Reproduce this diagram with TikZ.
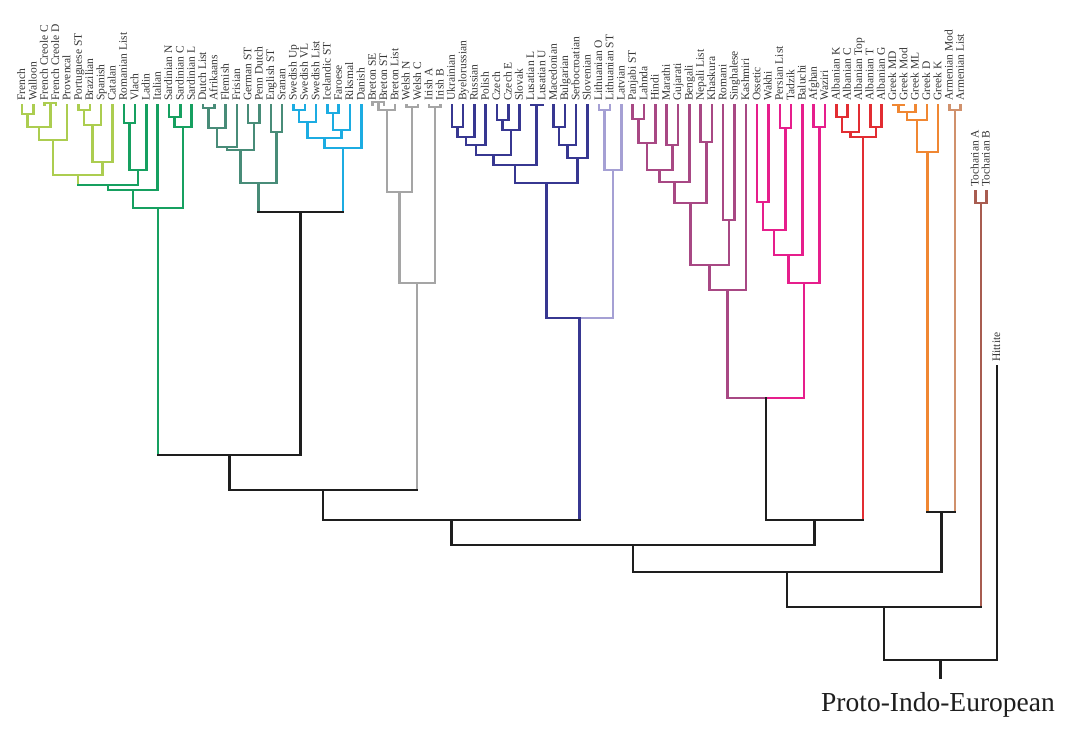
\documentclass[tikz,border=0pt]{standalone}
\usepackage{fontspec}
\setmainfont{Liberation Serif}
\usetikzlibrary{calc}
\definecolor{lg}{RGB}{172,205,80}
\definecolor{dg}{RGB}{22,160,96}
\definecolor{tl}{RGB}{72,140,120}
\definecolor{cy}{RGB}{28,172,226}
\definecolor{gy}{RGB}{165,165,165}
\definecolor{nv}{RGB}{55,55,145}
\definecolor{lp}{RGB}{165,160,212}
\definecolor{pm}{RGB}{168,72,132}
\definecolor{pk}{RGB}{230,30,140}
\definecolor{rd}{RGB}{226,45,50}
\definecolor{og}{RGB}{240,135,50}
\definecolor{tn}{RGB}{208,145,108}
\definecolor{br}{RGB}{168,92,80}
\definecolor{bk}{RGB}{30,30,30}
\definecolor{txt}{RGB}{55,55,55}
\tikzset{
  ln/.style={line width=2.5pt, line cap=rect},
  lab/.style={rotate=90, anchor=base west, inner sep=0pt, font=\fontsize{11.5}{11.5}\selectfont, text=txt}
}
\newcommand\mkleaf[3]{%
  \coordinate (l#1) at ({22+11.31*#1},105);
  \node[lab] (t#1) at ({22+11.31*#1+3.2},101) {#2};
  \expandafter\def\csname nc@l#1\endcsname{#3}}
\newcommand\mkjoin[7]{%
  \path let \p1=(#2), \p2=(#3) in coordinate (#1) at ({0.5*\x1+0.5*\x2},{-#4pt});
  \edef\mycola{\csname nc@#2\endcsname}\edef\mycolb{\csname nc@#3\endcsname}%
  \draw[ln,\mycola] (#2) -- (#2 |- #1);
  \draw[ln,\mycolb] (#3) -- (#3 |- #1);
  \draw[ln,#5] (#2 |- #1) -- (#1);
  \draw[ln,#6] (#1) -- (#3 |- #1);
  \expandafter\def\csname nc@#1\endcsname{#7}}
\begin{document}
\begin{tikzpicture}[x=1pt,y=-1pt]
\fill[white] (0,0) rectangle (1070,730);
\useasboundingbox (0,0) rectangle (1070,730);
% leaves
\mkleaf{0}{French}{lg}
\mkleaf{1}{Walloon}{lg}
\mkleaf{2}{French Creole C}{lg}
\mkleaf{3}{French Creole D}{lg}
\mkleaf{4}{Provencal}{lg}
\mkleaf{5}{Portuguese ST}{lg}
\mkleaf{6}{Brazilian}{lg}
\mkleaf{7}{Spanish}{lg}
\mkleaf{8}{Catalan}{lg}
\mkleaf{9}{Romanian List}{dg}
\mkleaf{10}{Vlach}{dg}
\mkleaf{11}{Ladin}{dg}
\mkleaf{12}{Italian}{dg}
\mkleaf{13}{Sardinian N}{dg}
\mkleaf{14}{Sardinian C}{dg}
\mkleaf{15}{Sardinian L}{dg}
\mkleaf{16}{Dutch List}{tl}
\mkleaf{17}{Afrikaans}{tl}
\mkleaf{18}{Flemish}{tl}
\mkleaf{19}{Frisian}{tl}
\mkleaf{20}{German ST}{tl}
\mkleaf{21}{Penn Dutch}{tl}
\mkleaf{22}{English ST}{tl}
\mkleaf{23}{Sranan}{tl}
\mkleaf{24}{Swedish Up}{cy}
\mkleaf{25}{Swedish VL}{cy}
\mkleaf{26}{Swedish List}{cy}
\mkleaf{27}{Icelandic ST}{cy}
\mkleaf{28}{Faroese}{cy}
\mkleaf{29}{Riksmal}{cy}
\mkleaf{30}{Danish}{cy}
\mkleaf{31}{Breton SE}{gy}
\mkleaf{32}{Breton ST}{gy}
\mkleaf{33}{Breton List}{gy}
\mkleaf{34}{Welsh N}{gy}
\mkleaf{35}{Welsh C}{gy}
\mkleaf{36}{Irish A}{gy}
\mkleaf{37}{Irish B}{gy}
\mkleaf{38}{Ukrainian}{nv}
\mkleaf{39}{Byelorussian}{nv}
\mkleaf{40}{Russian}{nv}
\mkleaf{41}{Polish}{nv}
\mkleaf{42}{Czech}{nv}
\mkleaf{43}{Czech E}{nv}
\mkleaf{44}{Slovak}{nv}
\mkleaf{45}{Lusatian L}{nv}
\mkleaf{46}{Lusatian U}{nv}
\mkleaf{47}{Macedonian}{nv}
\mkleaf{48}{Bulgarian}{nv}
\mkleaf{49}{Serbocroatian}{nv}
\mkleaf{50}{Slovenian}{nv}
\mkleaf{51}{Lithuanian O}{lp}
\mkleaf{52}{Lithuanian ST}{lp}
\mkleaf{53}{Latvian}{lp}
\mkleaf{54}{Panjabi ST}{pm}
\mkleaf{55}{Lahnda}{pm}
\mkleaf{56}{Hindi}{pm}
\mkleaf{57}{Marathi}{pm}
\mkleaf{58}{Gujarati}{pm}
\mkleaf{59}{Bengali}{pm}
\mkleaf{60}{Nepali List}{pm}
\mkleaf{61}{Khaskura}{pm}
\mkleaf{62}{Romani}{pm}
\mkleaf{63}{Singhalese}{pm}
\mkleaf{64}{Kashmiri}{pm}
\mkleaf{65}{Ossetic}{pk}
\mkleaf{66}{Wakhi}{pk}
\mkleaf{67}{Persian List}{pk}
\mkleaf{68}{Tadzik}{pk}
\mkleaf{69}{Baluchi}{pk}
\mkleaf{70}{Afghan}{pk}
\mkleaf{71}{Waziri}{pk}
\mkleaf{72}{Albanian K}{rd}
\mkleaf{73}{Albanian C}{rd}
\mkleaf{74}{Albanian Top}{rd}
\mkleaf{75}{Albanian T}{rd}
\mkleaf{76}{Albanian G}{rd}
\mkleaf{77}{Greek MD}{og}
\mkleaf{78}{Greek Mod}{og}
\mkleaf{79}{Greek ML}{og}
\mkleaf{80}{Greek D}{og}
\mkleaf{81}{Greek K}{og}
\mkleaf{82}{Armenian Mod}{tn}
\mkleaf{83}{Armenian List}{tn}
% Tocharian and Hittite
\coordinate (ta) at (975.5,191); \node[lab] (tta) at (978.7,187) {Tocharian A};
\coordinate (tb) at (986.5,191); \node[lab] (ttb) at (989.7,187) {Tocharian B};
\expandafter\def\csname nc@ta\endcsname{br}\expandafter\def\csname nc@tb\endcsname{br}
\coordinate (hit) at (997,366); \node[lab] (thit) at (1000.2,362) {Hittite};
\expandafter\def\csname nc@hit\endcsname{bk}
% Romance
\mkjoin{fw}{l0}{l1}{114}{lg}{lg}{lg}
\mkjoin{fc}{l2}{l3}{103}{lg}{lg}{lg}
\mkjoin{fwc}{fw}{fc}{127}{lg}{lg}{lg}
\mkjoin{gal}{fwc}{l4}{140}{lg}{lg}{lg}
\mkjoin{pb}{l5}{l6}{110}{lg}{lg}{lg}
\mkjoin{pbs}{pb}{l7}{125}{lg}{lg}{lg}
\mkjoin{ibe}{pbs}{l8}{162}{lg}{lg}{lg}
\mkjoin{gi}{gal}{ibe}{175}{lg}{lg}{lg}
\mkjoin{rv}{l9}{l10}{123}{dg}{dg}{dg}
\mkjoin{rvl}{rv}{l11}{170}{dg}{dg}{dg}
\mkjoin{ra}{gi}{rvl}{185}{dg}{dg}{dg}
\mkjoin{rb}{ra}{l12}{190}{dg}{dg}{dg}
\mkjoin{sn}{l13}{l14}{117}{dg}{dg}{dg}
\mkjoin{sar}{sn}{l15}{127}{dg}{dg}{dg}
\mkjoin{rom}{rb}{sar}{208}{dg}{dg}{dg}
% Germanic
\mkjoin{da}{l16}{l17}{108}{tl}{tl}{tl}
\mkjoin{daf}{da}{l18}{128}{tl}{tl}{tl}
\mkjoin{dafr}{daf}{l19}{147}{tl}{tl}{tl}
\mkjoin{gp}{l20}{l21}{123}{tl}{tl}{tl}
\mkjoin{wg}{dafr}{gp}{150}{tl}{tl}{tl}
\mkjoin{es}{l22}{l23}{132}{tl}{tl}{tl}
\mkjoin{wge}{wg}{es}{183}{tl}{tl}{tl}
\mkjoin{sw}{l24}{l25}{110}{cy}{cy}{cy}
\mkjoin{sws}{sw}{l26}{122}{cy}{cy}{cy}
\mkjoin{ifa}{l27}{l28}{113}{cy}{cy}{cy}
\mkjoin{ifr}{ifa}{l29}{130}{cy}{cy}{cy}
\mkjoin{scn}{sws}{ifr}{138}{cy}{cy}{cy}
\mkjoin{scd}{scn}{l30}{148}{cy}{cy}{cy}
\mkjoin{germ}{wge}{scd}{212}{bk}{bk}{bk}
% Celtic
\mkjoin{bb}{l31}{l32}{102}{gy}{gy}{gy}
\mkjoin{bre}{bb}{l33}{110}{gy}{gy}{gy}
\mkjoin{wel}{l34}{l35}{107}{gy}{gy}{gy}
\mkjoin{bry}{bre}{wel}{192}{gy}{gy}{gy}
\mkjoin{iri}{l36}{l37}{107}{gy}{gy}{gy}
\mkjoin{celt}{bry}{iri}{283}{gy}{gy}{gy}
% Balto-Slavic
\mkjoin{ub}{l38}{l39}{127}{nv}{nv}{nv}
\mkjoin{ubr}{ub}{l40}{137}{nv}{nv}{nv}
\mkjoin{ubp}{ubr}{l41}{145}{nv}{nv}{nv}
\mkjoin{cz}{l42}{l43}{120}{nv}{nv}{nv}
\mkjoin{czs}{cz}{l44}{130}{nv}{nv}{nv}
\mkjoin{ws}{ubp}{czs}{155}{nv}{nv}{nv}
\mkjoin{lus}{l45}{l46}{105}{nv}{nv}{nv}
\mkjoin{wl}{ws}{lus}{165}{nv}{nv}{nv}
\mkjoin{mb}{l47}{l48}{127}{nv}{nv}{nv}
\mkjoin{mbs}{mb}{l49}{145}{nv}{nv}{nv}
\mkjoin{ssl}{mbs}{l50}{158}{nv}{nv}{nv}
\mkjoin{slav}{wl}{ssl}{183}{nv}{nv}{nv}
\mkjoin{lit}{l51}{l52}{110}{lp}{lp}{lp}
\mkjoin{balt}{lit}{l53}{170}{lp}{lp}{lp}
\mkjoin{bs}{slav}{balt}{318}{nv}{lp}{nv}
% Indo-Iranian
\mkjoin{pl}{l54}{l55}{119}{pm}{pm}{pm}
\mkjoin{plh}{pl}{l56}{143}{pm}{pm}{pm}
\mkjoin{mg}{l57}{l58}{145}{pm}{pm}{pm}
\mkjoin{plm}{plh}{mg}{170}{pm}{pm}{pm}
\mkjoin{plb}{plm}{l59}{182}{pm}{pm}{pm}
\mkjoin{nk}{l60}{l61}{142}{pm}{pm}{pm}
\mkjoin{inda}{plb}{nk}{203}{pm}{pm}{pm}
\mkjoin{rs}{l62}{l63}{220}{pm}{pm}{pm}
\mkjoin{indb}{inda}{rs}{265}{pm}{pm}{pm}
\mkjoin{ind}{indb}{l64}{290}{pm}{pm}{pm}
\mkjoin{ow}{l65}{l66}{202}{pk}{pk}{pk}
\mkjoin{pt}{l67}{l68}{128}{pk}{pk}{pk}
\mkjoin{owp}{ow}{pt}{230}{pk}{pk}{pk}
\mkjoin{owb}{owp}{l69}{255}{pk}{pk}{pk}
\mkjoin{aw}{l70}{l71}{127}{pk}{pk}{pk}
\mkjoin{ira}{owb}{aw}{283}{pk}{pk}{pk}
\mkjoin{ii}{ind}{ira}{398}{pm}{pk}{bk}
% Albanian
\mkjoin{kc}{l72}{l73}{117}{rd}{rd}{rd}
\mkjoin{kct}{kc}{l74}{132}{rd}{rd}{rd}
\mkjoin{tg}{l75}{l76}{127}{rd}{rd}{rd}
\mkjoin{alb}{kct}{tg}{137}{rd}{rd}{rd}
% Greek, Armenian
\mkjoin{gm}{l77}{l78}{105}{og}{og}{og}
\mkjoin{gml}{gm}{l79}{112}{og}{og}{og}
\mkjoin{gmd}{gml}{l80}{120}{og}{og}{og}
\mkjoin{grk}{gmd}{l81}{152}{og}{og}{og}
\mkjoin{arm}{l82}{l83}{110}{tn}{tn}{tn}
% Tocharian
\mkjoin{toc}{ta}{tb}{203}{br}{br}{br}
% upper levels
\mkjoin{rg}{rom}{germ}{455}{bk}{bk}{bk}
\mkjoin{rgc}{rg}{celt}{490}{bk}{bk}{bk}
\mkjoin{rgcb}{rgc}{bs}{520}{bk}{bk}{bk}
\mkjoin{ia}{ii}{alb}{520}{bk}{bk}{bk}
\mkjoin{xx}{rgcb}{ia}{545}{bk}{bk}{bk}
\mkjoin{ga}{grk}{arm}{512}{bk}{bk}{bk}
\mkjoin{yy}{xx}{ga}{572}{bk}{bk}{bk}
\mkjoin{zz}{yy}{toc}{607}{bk}{bk}{bk}
\mkjoin{pie}{zz}{hit}{660}{bk}{bk}{bk}
\coordinate (rootend) at ($(pie)+(0,18)$);
\draw[ln,bk] (pie) -- (rootend);
\node[anchor=base, inner sep=0pt, text=bk, font=\fontsize{27.5}{27.5}\selectfont] (ptitle) at (938,711) {Proto-Indo-European};
\end{tikzpicture}
\end{document}
